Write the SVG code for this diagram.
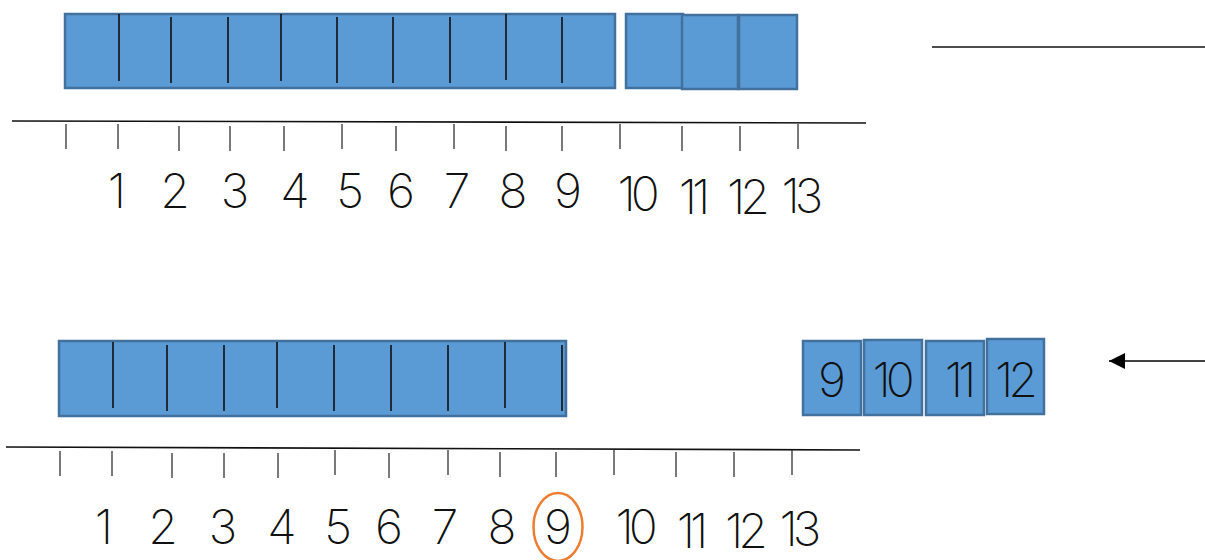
<svg xmlns="http://www.w3.org/2000/svg" width="1205" height="560" viewBox="0 0 1205 560">
<style>
.bar{fill:#5B9BD5;stroke:#41719C;stroke-width:2.5}
.div{stroke:#111;stroke-width:1.6}
.axis{stroke:#111;stroke-width:1.6;fill:none}
.tick{stroke:#333;stroke-width:1.3}
.num{font-family:Inter,Lato,"Liberation Sans",sans-serif;font-weight:200;font-size:48px;fill:#111;text-anchor:middle}
.two{letter-spacing:-5px}
</style>
<defs>
<marker id="ah" markerWidth="16" markerHeight="16" refX="16" refY="8" orient="auto" markerUnits="userSpaceOnUse">
<path d="M0,0 L16,8 L0,16 Z" fill="#000"/>
</marker>
</defs>
<rect width="1205" height="560" fill="#fff"/>

<g id="top-bar">
<rect class="bar" x="65" y="14" width="550" height="74"/>
<path class="div" d="M119,14V81 M171,17V83 M228,17V83 M281,14V81 M337,17V83 M393,17V83 M450,17V83 M506,14V80 M562,17V83"/>
</g>
<g id="top-box-a"><rect class="bar" x="626" y="14" width="57" height="74"/></g>
<g id="top-box-b"><rect class="bar" x="682" y="15" width="56" height="74"/></g>
<g id="top-box-c"><rect class="bar" x="739" y="15" width="58" height="74"/></g>

<g id="top-line">
<line class="axis" x1="12" y1="121" x2="866" y2="123"/>
<path class="tick" d="M66,124V149 M118,124V149 M179,126V151 M230,126V151 M284,126V151 M342,124V149 M396,126V151 M454,124V149 M506,126V151 M562,126V151 M620,124V149 M682,126V151 M740,126V151 M798,124V149"/>
</g>
<g id="top-numbers">
<text class="num" x="117" y="208">1</text>
<text class="num" x="175" y="208">2</text>
<text class="num" x="235" y="208">3</text>
<text class="num" x="295" y="208">4</text>
<text class="num" x="350" y="208">5</text>
<text class="num" x="401" y="208">6</text>
<text class="num" x="457" y="208">7</text>
<text class="num" x="513" y="208">8</text>
<text class="num" x="568" y="208">9</text>
<text class="num two" x="636" y="211">10</text>
<text class="num two" x="692" y="214">11</text>
<text class="num two" x="746" y="214">12</text>
<text class="num two" x="800" y="213">13</text>
</g>

<g id="top-right-line"><line class="axis" x1="932" y1="47" x2="1205" y2="47"/></g>

<g id="bottom-bar">
<rect class="bar" x="59" y="341" width="507" height="75"/>
<path class="div" d="M113,342V408 M167,345V411 M224,345V411 M277,342V408 M334,345V411 M391,345V411 M448,345V411 M505,342V408 M562,345V411"/>
</g>

<g id="bottom-line">
<line class="axis" x1="6" y1="447" x2="860" y2="450"/>
<path class="tick" d="M60,451V476 M112,451V476 M172,453V478 M224,453V478 M278,453V478 M335,450V475 M389,453V478 M448,450V475 M500,452V477 M556,452V477 M614,450V475 M676,452V477 M734,452V477 M792,450V475"/>
</g>
<g id="bottom-numbers">
<text class="num" x="104" y="544">1</text>
<text class="num" x="163" y="544">2</text>
<text class="num" x="223" y="544">3</text>
<text class="num" x="282" y="544">4</text>
<text class="num" x="338" y="544">5</text>
<text class="num" x="389" y="544">6</text>
<text class="num" x="445" y="544">7</text>
<text class="num" x="502" y="544">8</text>
<text class="num" x="558" y="544">9</text>
<text class="num two" x="634" y="544">10</text>
<text class="num two" x="690" y="548">11</text>
<text class="num two" x="744" y="548">12</text>
<text class="num two" x="798" y="546">13</text>
</g>
<g id="circle-9"><ellipse cx="558" cy="527" rx="24.5" ry="34" fill="none" stroke="#ED7D31" stroke-width="2.5"/></g>

<g id="box-9"><rect class="bar" x="803" y="341" width="58" height="74"/><text class="num" x="832" y="397">9</text></g>
<g id="box-10"><rect class="bar" x="864" y="340" width="58" height="75"/><text class="num two" x="891" y="397">10</text></g>
<g id="box-11"><rect class="bar" x="926" y="341" width="58" height="74"/><text class="num two" x="958" y="397">11</text></g>
<g id="box-12"><rect class="bar" x="987" y="339" width="57" height="75"/><text class="num two" x="1014" y="397">12</text></g>

<g id="connectors">
<line x1="1205" y1="361" x2="1109" y2="361" stroke="#000" stroke-width="1.5" marker-end="url(#ah)"/>
</g>
</svg>
